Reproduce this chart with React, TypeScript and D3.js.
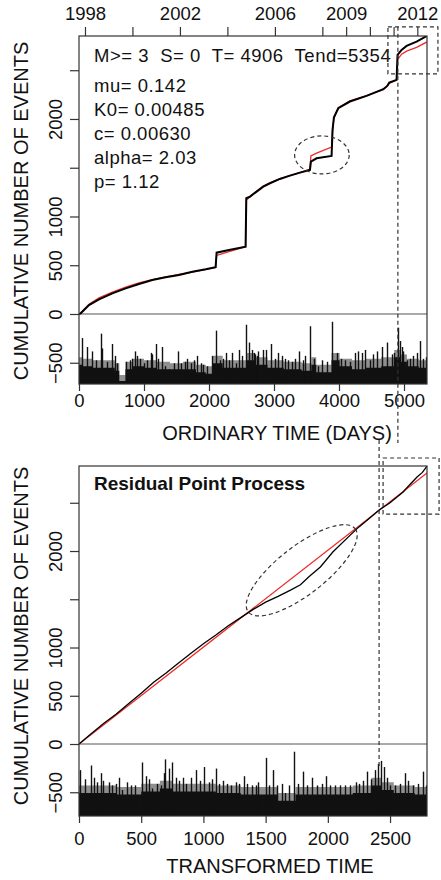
import { useEffect, useRef } from 'react';
import * as d3 from 'd3';

const FONT = '"Liberation Sans", Arial, Helvetica, sans-serif';

// ordinary time (days since 1997-10-01)
const startDate = new Date(Date.UTC(1997, 9, 1));
const dayEnd = 5354;
const dayTarget = 4906;
const dayTicks = [0, 1000, 2000, 3000, 4000, 5000];
const yearTicks = [1998, 2000, 2002, 2004, 2006, 2008, 2009, 2010, 2011, 2012];
const yearLabels = [1998, 2002, 2006, 2009, 2012];

// transformed time
const tauEnd = 2797;
const tauTarget = 2412;
const tauTicks = [0, 500, 1000, 1500, 2000, 2500];

const countTicks = [-500, 0, 500, 1000, 1500, 2000, 2500];
const countLabels = [-500, 0, 500, 1000, 2000];

const infoLines = ['M>= 3  S= 0  T= 4906  Tend=5354', 'mu= 0.142', 'K0= 0.00485', 'c= 0.00630', 'alpha= 2.03', 'p= 1.12'];

// cumulative counts vs ordinary time
const obsDays = [0, 26, 154, 308, 513, 718, 923, 1128, 1333, 1538, 1743, 1948, 2102, 2117, 2307, 2563, 2574, 2630, 2733, 2835,
  2938, 3091, 3245, 3399, 3553, 3568, 3655, 3886, 3901, 3922, 3989, 4168, 4424, 4681, 4742, 4773, 4886, 4901, 4963, 5040, 5194, 5354];
const obsCount = [0, 7, 92, 150, 212, 263, 308, 349, 376, 400, 434, 458, 479, 629, 657, 691, 1187, 1204, 1255, 1306,
  1341, 1385, 1419, 1450, 1477, 1563, 1597, 1621, 1888, 2018, 2110, 2179, 2237, 2305, 2339, 2373, 2401, 2657, 2709, 2750, 2794, 2852];
const etasCount = [0, 10, 100, 165, 225, 275, 318, 352, 380, 405, 430, 455, 476, 600, 640, 690, 1170, 1200, 1262, 1312,
  1345, 1388, 1420, 1450, 1485, 1620, 1650, 1712, 1880, 2005, 2115, 2185, 2240, 2300, 2335, 2365, 2398, 2610, 2665, 2695, 2735, 2790];

// magnitudes vs ordinary time
const magDays = [51, 128, 205, 267, 333, 359, 436, 503, 554, 590, 718, 780, 821, 862, 898, 934, 1000, 1052, 1103, 1129,
  1190, 1221, 1272, 1324, 1385, 1462, 1529, 1565, 1631, 1667, 1719, 1770, 1821, 1872, 1908, 1975, 2052, 2110, 2165, 2216,
  2267, 2309, 2360, 2411, 2462, 2514, 2570, 2616, 2657, 2693, 2745, 2707, 2758, 2825, 2876, 2948, 3015, 3066, 3117, 3169,
  3220, 3271, 3323, 3389, 3441, 3476, 3560, 3615, 3682, 3733, 3820, 3900, 3964, 4025, 4092, 4169, 4246, 4297, 4349, 4400,
  4477, 4518, 4590, 4656, 4733, 4810, 4846, 4903, 4938, 4964, 4990, 5041, 5092, 5144, 5195, 5246, 5298, 5340];
const magValues = [6.1, 5.5, 5.2, 4.6, 6.4, 5.4, 4.5, 5.7, 4.9, 4.4, 4.5, 4.6, 4.7, 5.2, 4.9, 4.7, 4.4, 4.6, 5.1, 5.0,
  5.7, 4.7, 5.5, 4.2, 4.0, 4.4, 5.2, 4.4, 4.5, 4.7, 4.4, 4.6, 4.9, 4.4, 4.3, 4.2, 4.9, 6.6, 4.6, 4.7,
  5.1, 4.6, 5.1, 4.4, 5.3, 4.9, 7.0, 5.8, 5.3, 5.1, 4.9, 5.0, 5.2, 5.3, 5.3, 5.7, 4.7, 5.1, 4.9, 4.7,
  4.6, 4.5, 4.7, 5.2, 4.6, 4.9, 6.9, 4.7, 4.2, 4.6, 4.5, 7.2, 5.1, 4.7, 4.6, 4.5, 5.1, 5.2, 5.1, 5.3,
  4.6, 5.0, 5.2, 5.5, 5.8, 5.0, 5.1, 6.8, 5.9, 5.5, 5.2, 4.6, 4.7, 4.9, 5.1, 5.9, 4.7, 4.8];
// dense band of small events: solid upper edge and hatched upper edge
const bandDays = [0, 100, 300, 500, 600, 640, 700, 730, 900, 1100, 1300, 1500, 1700, 1900, 2000, 2120, 2300, 2560, 2600, 2800,
  3000, 3300, 3550, 3600, 3700, 3850, 3920, 4100, 4300, 4500, 4800, 4900, 4990, 5100, 5354];
const bandMag = [4.3, 4.2, 4.1, 4.1, 3.9, 3.2, 3.2, 4.0, 4.2, 4.1, 4.0, 4.0, 4.0, 3.8, 3.7, 4.4, 4.1, 4.1, 4.6, 4.3,
  4.1, 4.0, 3.9, 4.3, 3.8, 3.8, 4.6, 4.2, 4.0, 4.1, 4.2, 4.8, 4.5, 4.2, 4.1];
const hatchMag = [4.8, 4.7, 4.6, 4.6, 4.4, 3.6, 3.6, 4.5, 4.7, 4.6, 4.5, 4.4, 4.5, 4.3, 4.2, 4.9, 4.6, 4.6, 5.1, 4.8,
  4.6, 4.5, 4.4, 4.8, 4.3, 4.3, 5.1, 4.7, 4.6, 4.7, 4.8, 5.3, 5.0, 4.7, 4.6];

// residual point process (transformed time)
const tauObs = [0, 50, 100, 200, 300, 400, 500, 600, 700, 800, 900, 1000, 1100, 1200, 1300, 1400, 1500, 1600, 1700, 1780,
  1850, 1940, 2040, 2180, 2250, 2330, 2412, 2500, 2605, 2660, 2717, 2760, 2797];
const tauObsCount = [0, 55, 110, 215, 310, 420, 525, 640, 735, 840, 940, 1040, 1130, 1225, 1310, 1395, 1470, 1530, 1595, 1650,
  1735, 1835, 1990, 2165, 2250, 2335, 2425, 2500, 2611, 2690, 2767, 2815, 2880];
const tauLine = [0, 2797];
const tauLineCount = [0, 2808];
const tauMagT = [8, 48, 94, 121, 147, 174, 193, 241, 263, 295, 322, 348, 389, 415, 450, 505, 536, 563, 590, 630,
  657, 683, 695, 724, 746, 777, 804, 836, 863, 898, 943, 970, 1005, 1045, 1072, 1099, 1126, 1158, 1193, 1219,
  1260, 1286, 1327, 1353, 1394, 1426, 1442, 1503, 1530, 1563, 1589, 1630, 1656, 1691, 1731, 1764, 1798, 1831, 1871, 1911,
  1951, 1986, 2018, 2058, 2099, 2139, 2179, 2227, 2254, 2286, 2318, 2345, 2380, 2407, 2426, 2452, 2474, 2500, 2541, 2581,
  2621, 2648, 2688, 2728, 2763, 2790];
const tauMagValues = [6.0, 5.4, 6.3, 5.5, 5.2, 5.8, 5.3, 5.2, 5.0, 5.1, 5.5, 4.7, 5.2, 5.0, 5.0, 6.5, 5.6, 5.4, 4.8, 5.1,
  5.0, 5.8, 6.7, 6.1, 6.5, 5.5, 5.3, 5.5, 5.1, 5.5, 6.0, 5.3, 6.2, 5.2, 5.4, 6.1, 5.1, 5.3, 5.1, 5.0,
  5.2, 5.1, 5.6, 5.1, 5.0, 5.0, 5.2, 6.8, 5.0, 6.0, 5.0, 5.1, 4.5, 5.0, 7.2, 5.1, 5.9, 5.0, 5.5, 5.0,
  5.1, 5.6, 5.0, 5.0, 5.0, 5.0, 5.0, 5.2, 5.1, 5.3, 5.9, 5.4, 6.0, 6.4, 6.6, 6.2, 5.5, 5.0, 5.0, 5.1,
  5.8, 5.3, 5.0, 5.1, 5.9, 5.0];
const tauBandT = [0, 200, 400, 600, 700, 800, 1000, 1200, 1400, 1550, 1650, 1720, 1760, 1900, 2100, 2300, 2400, 2460, 2600, 2797];
const tauBandMag = [4.5, 4.5, 4.4, 4.6, 4.8, 4.6, 4.6, 4.5, 4.4, 4.4, 4.0, 4.0, 4.4, 4.4, 4.4, 4.5, 5.0, 4.7, 4.5, 4.4];
const tauHatchMag = [5.0, 5.0, 4.9, 5.1, 5.3, 5.1, 5.1, 5.0, 4.9, 4.9, 4.5, 4.5, 4.9, 4.9, 4.9, 5.0, 5.5, 5.2, 5.0, 4.9];

type Panel = {
  id: string; top: number; bottom: number; left: number; right: number;
  xMax: number; yMin: number; yMax: number; xTicks: number[];
  tickLabelY: number; xTitle: string; xTitleX: number; xTitleY: number; yTitleY: number;
  obsT: number[]; obsN: number[]; obsWidth: number; fitT: number[]; fitN: number[];
  magT: number[]; magM: number[]; bandT: number[]; bandM: number[]; hatchM: number[];
};

function drawPanel(svg: any, p: Panel) {
  const x = d3.scaleLinear().domain([0, p.xMax]).range([p.left, p.right]);
  const y = d3.scaleLinear().domain([p.yMin, p.yMax]).range([p.bottom, p.top]);
  const mag = d3.scaleLinear().domain([3, 7.2]).range([p.yMin, -80]);

  svg.append('clipPath').attr('id', p.id).append('rect')
    .attr('x', p.left).attr('y', p.top).attr('width', p.right - p.left).attr('height', p.bottom - p.top);
  const plot = svg.append('g').attr('clip-path', `url(#${p.id})`);

  // dense band of small events (grey hatch zone, then solid core)
  const band = d3.area<number>().x((_, i) => x(p.bandT[i])).y0(y(p.yMin)).y1(d => y(mag(d))).curve(d3.curveStep);
  plot.append('path').datum(p.hatchM).attr('fill', '#444').attr('opacity', 0.6).attr('d', band);
  plot.append('path').datum(p.bandM).attr('fill', '#111').attr('d', band);

  // magnitude spikes
  plot.selectAll('line.spike').data(p.magT).join('line')
    .attr('class', 'spike')
    .attr('x1', (d: number) => Math.round(x(d)) + 0.5).attr('x2', (d: number) => Math.round(x(d)) + 0.5)
    .attr('y1', y(p.yMin)).attr('y2', (_: number, i: number) => y(mag(p.magM[i])))
    .attr('stroke', '#111').attr('stroke-width', 1.4);

  plot.append('line')
    .attr('x1', p.left).attr('x2', p.right).attr('y1', y(0)).attr('y2', y(0))
    .attr('stroke', '#555').attr('stroke-width', 1);

  const fitLine = d3.line<number>().x((_, i) => x(p.fitT[i])).y(d => y(d));
  plot.append('path').datum(p.fitN).attr('d', fitLine)
    .attr('fill', 'none').attr('stroke', '#ee2a2a').attr('stroke-width', 1.3);

  const obsLine = d3.line<number>().x((_, i) => x(p.obsT[i])).y(d => y(d));
  plot.append('path').datum(p.obsN).attr('d', obsLine)
    .attr('fill', 'none').attr('stroke', '#000').attr('stroke-width', p.obsWidth);

  svg.append('rect')
    .attr('x', p.left).attr('y', p.top).attr('width', p.right - p.left).attr('height', p.bottom - p.top)
    .attr('fill', 'none').attr('stroke', '#333').attr('stroke-width', 1.2);

  // axes
  const fmt = d3.format('d');
  const ya = svg.append('g').attr('transform', `translate(${p.left},0)`)
    .call(d3.axisLeft(y).tickValues(countTicks).tickSize(9)
      .tickFormat((d: any) => (countLabels.includes(d) ? fmt(d) : '')));
  ya.select('.domain').remove();
  ya.selectAll('text').attr('x', 0).attr('dy', 0).attr('text-anchor', 'middle')
    .attr('transform', 'translate(-17,0) rotate(-90)');

  const xa = svg.append('g').attr('transform', `translate(0,${p.bottom})`)
    .call(d3.axisBottom(x).tickValues(p.xTicks).tickSize(7).tickFormat((d: any) => fmt(d)));
  xa.select('.domain').remove();
  xa.selectAll('text').attr('y', p.tickLabelY).attr('dy', 0);

  [ya, xa].forEach(a => {
    a.attr('font-family', FONT).attr('font-size', 18.5);
    a.selectAll('line').attr('stroke', '#333').attr('stroke-width', 1.2);
    a.selectAll('text').attr('fill', '#111');
  });

  svg.append('text').attr('x', p.xTitleX).attr('y', p.xTitleY)
    .attr('text-anchor', 'middle').attr('font-family', FONT).attr('font-size', 20).attr('fill', '#111')
    .text(p.xTitle);
  svg.append('text').attr('transform', `translate(28,${p.yTitleY}) rotate(-90)`)
    .attr('text-anchor', 'middle').attr('font-family', FONT).attr('font-size', 20).attr('fill', '#111')
    .text('CUMULATIVE NUMBER OF EVENTS');

  return { x, y };
}

export default function App() {
  const ref = useRef<SVGSVGElement>(null);

  useEffect(() => {
    const svg = d3.select(ref.current);
    svg.selectAll('*').remove();

    const dash = (sel: any) => sel.attr('fill', 'none').attr('stroke', '#333')
      .attr('stroke-width', 1.2).attr('stroke-dasharray', '4,3');

    // ---- top panel: ordinary time ----
    const top = drawPanel(svg, {
      id: 'clip-top', top: 36, bottom: 384, left: 79, right: 427,
      xMax: dayEnd, yMin: -718, yMax: 2851, xTicks: dayTicks,
      tickLabelY: 23, xTitle: 'ORDINARY TIME (DAYS)', xTitleX: 277, xTitleY: 440, yTitleY: 211,
      obsT: obsDays, obsN: obsCount, obsWidth: 2, fitT: obsDays, fitN: etasCount,
      magT: magDays, magM: magValues, bandT: bandDays, bandM: bandMag, hatchM: hatchMag,
    });

    const endDate = d3.utcDay.offset(startDate, dayEnd);
    const time = d3.scaleUtc().domain([startDate, endDate]).range([79, 427]);
    const ta = svg.append('g').attr('transform', 'translate(0,36)')
      .call(d3.axisTop(time).tickValues(yearTicks.map(yr => new Date(Date.UTC(yr, 0, 1)))).tickSize(9)
        .tickFormat((d: any) => (yearLabels.includes(d.getUTCFullYear()) ? String(d.getUTCFullYear()) : '')));
    ta.select('.domain').remove();
    ta.attr('font-family', FONT).attr('font-size', 18.5);
    ta.selectAll('text').attr('y', -16).attr('dy', 0).attr('fill', '#111');
    ta.selectAll('line').attr('stroke', '#333').attr('stroke-width', 1.2);

    svg.append('g').selectAll('text').data(infoLines).join('text')
      .attr('x', 94).attr('y', (_: string, i: number) => (i === 0 ? 62 : 92 + (i - 1) * 24))
      .attr('font-family', FONT).attr('font-size', 18.5).attr('fill', '#111')
      .attr('letter-spacing', 0.5)
      .style('white-space', 'pre')
      .text((d: string) => d);

    // zoom annotations, top
    svg.append('line').call(dash)
      .attr('x1', top.x(dayTarget)).attr('x2', top.x(dayTarget))
      .attr('y1', top.y(2945)).attr('y2', 443);
    svg.append('rect').call(dash)
      .attr('x', top.x(4753)).attr('y', top.y(2945))
      .attr('width', top.x(5522) - top.x(4753)).attr('height', top.y(2462) - top.y(2945));
    svg.append('ellipse').call(dash)
      .attr('cx', top.x(3737)).attr('cy', top.y(1631))
      .attr('rx', top.x(3737 + 420) - top.x(3737)).attr('ry', top.y(1631) - top.y(1631 + 195));

    // ---- bottom panel: transformed time ----
    const bot = drawPanel(svg, {
      id: 'clip-bot', top: 466, bottom: 816, left: 79, right: 427,
      xMax: tauEnd, yMin: -746, yMax: 2881, xTicks: tauTicks,
      tickLabelY: 29, xTitle: 'TRANSFORMED TIME', xTitleX: 270, xTitleY: 873, yTitleY: 636,
      obsT: tauObs, obsN: tauObsCount, obsWidth: 1.3, fitT: tauLine, fitN: tauLineCount,
      magT: tauMagT, magM: tauMagValues, bandT: tauBandT, bandM: tauBandMag, hatchM: tauHatchMag,
    });

    svg.append('text').attr('x', 94).attr('y', 490)
      .attr('font-family', FONT).attr('font-size', 19).attr('font-weight', 'bold').attr('fill', '#111')
      .text('Residual Point Process');

    svg.append('line').call(dash)
      .attr('x1', bot.x(tauTarget)).attr('x2', bot.x(tauTarget))
      .attr('y1', 440).attr('y2', bot.y(-240));
    svg.append('rect').call(dash)
      .attr('x', bot.x(2444)).attr('y', bot.y(2964))
      .attr('width', bot.x(2894) - bot.x(2444)).attr('height', bot.y(2383) - bot.y(2964));
    const c = 1790;
    const angle = Math.atan2(bot.y(c + 430) - bot.y(c), bot.x(c + 430) - bot.x(c)) * 180 / Math.PI;
    const semi = Math.hypot(bot.x(c + 430) - bot.x(c), bot.y(c + 430) - bot.y(c));
    svg.append('ellipse').call(dash)
      .attr('cx', 0).attr('cy', 0).attr('rx', semi).attr('ry', 24)
      .attr('transform', `translate(${bot.x(c)},${bot.y(c + 10)}) rotate(${angle})`);
  }, []);

  return (
    <svg ref={ref} width={441} height={880}
      style={{ position: 'absolute', left: 0, top: 0, background: '#fff' }} />
  );
}
